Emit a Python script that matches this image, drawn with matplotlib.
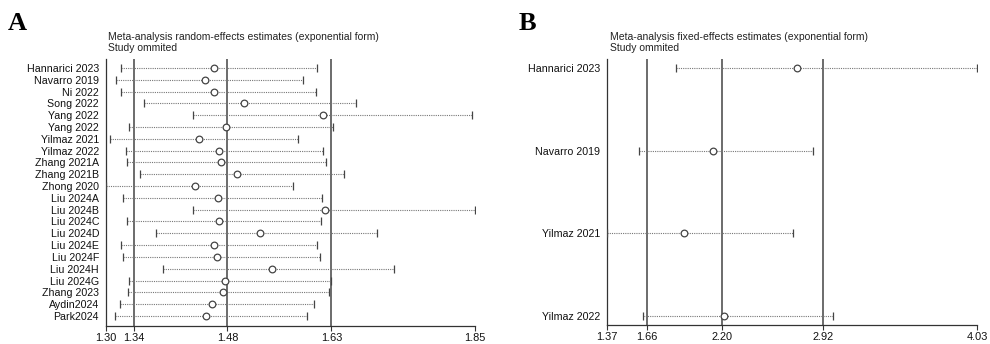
import numpy as np
import matplotlib
matplotlib.use("Agg")
import matplotlib.pyplot as plt

plt.rcParams['font.family'] = ['Liberation Sans', 'DejaVu Sans']

# Panel A: random-effects, one study omitted at a time
studies_a = ['Hannarici 2023', 'Navarro 2019', 'Ni 2022', 'Song 2022', 'Yang 2022',
             'Yang 2022', 'Yilmaz 2021', 'Yilmaz 2022', 'Zhang 2021A', 'Zhang 2021B',
             'Zhong 2020', 'Liu 2024A', 'Liu 2024B', 'Liu 2024C', 'Liu 2024D',
             'Liu 2024E', 'Liu 2024F', 'Liu 2024H', 'Liu 2024G', 'Zhang 2023',
             'Aydin2024', 'Park2024']
est_a = [1.461, 1.448, 1.461, 1.505, 1.623, 1.479, 1.439, 1.469, 1.472, 1.495,
         1.432, 1.467, 1.626, 1.469, 1.530, 1.461, 1.465, 1.547, 1.478, 1.475,
         1.458, 1.449]
low_a = [1.322, 1.315, 1.322, 1.356, 1.429, 1.335, 1.306, 1.330, 1.331, 1.351,
         1.300, 1.325, 1.429, 1.331, 1.374, 1.322, 1.326, 1.385, 1.335, 1.333,
         1.321, 1.313]
up_a = [1.615, 1.593, 1.613, 1.672, 1.845, 1.639, 1.586, 1.623, 1.628, 1.655,
        1.578, 1.622, 1.850, 1.621, 1.704, 1.614, 1.619, 1.729, 1.636, 1.633,
        1.610, 1.599]
ref_a = [1.341, 1.481, 1.636]          # lower CI, estimate, upper CI
ticks_a = [1.30, 1.341, 1.481, 1.636, 1.85]
ticklabels_a = ['1.30', '1.34', '1.48', '1.63', '1.85']

# Panel B: fixed-effects
studies_b = ['Hannarici 2023', 'Navarro 2019', 'Yilmaz 2021', 'Yilmaz 2022']
est_b = [2.735, 2.130, 1.926, 2.210]
low_b = [1.864, 1.598, 1.372, 1.627]
up_b = [4.030, 2.850, 2.710, 2.998]
ref_b = [1.66, 2.20, 2.92]
ticks_b = [1.37, 1.66, 2.20, 2.92, 4.03]
ticklabels_b = ['1.37', '1.66', '2.20', '2.92', '4.03']

W, H = 990, 344


def draw_panel(ax, names, est, low, up, refs, ticks, labels, ylim):
    y = np.arange(len(names))
    for xv in refs:
        ax.axvline(xv, color='#444444', lw=1.1, zorder=1)
    ax.hlines(y, low, up, colors='#777777', linestyles=(0, (1, 1)), lw=0.8, zorder=2)
    ax.plot(low, y, '|', color='#444444', ms=6, mew=0.9, zorder=3)
    ax.plot(up, y, '|', color='#444444', ms=6, mew=0.9, zorder=3)
    ax.plot(est, y, 'o', mfc='white', mec='#444444', ms=4.8, mew=0.9, zorder=4)
    ax.set_xlim(ticks[0], ticks[-1])
    ax.set_ylim(*ylim)
    ax.set_yticks(y)
    ax.set_yticklabels(names, fontsize=7.7, color='#111111')
    ax.tick_params(axis='y', length=0, pad=5)
    ax.set_xticks(ticks)
    ax.set_xticklabels(labels, fontsize=7.9, color='#111111')
    ax.tick_params(axis='x', length=3.5, width=0.8, pad=1.5, color='#333333')
    for s in ['top', 'right']:
        ax.spines[s].set_visible(False)
    for s in ['left', 'bottom']:
        ax.spines[s].set_color('#333333')
        ax.spines[s].set_linewidth(0.9)


fig = plt.figure(figsize=(W / 100, H / 100), dpi=100)

ax_a = fig.add_axes([106 / W, 1 - 326 / H, 369 / W, 267 / H])
n_a = len(studies_a)
draw_panel(ax_a, studies_a, est_a, low_a, up_a, ref_a, ticks_a, ticklabels_a,
           (n_a - 1 + 0.85, -0.76))

ax_b = fig.add_axes([607 / W, 1 - 325 / H, 370 / W, 266 / H])
draw_panel(ax_b, studies_b, est_b, low_b, up_b, ref_b, ticks_b, ticklabels_b,
           (3.11, -0.11))

# panel letters and headings
fig.text(17 / W, 1 - 24 / H, 'A', fontsize=19, fontweight='bold',
         family=['Liberation Serif', 'DejaVu Serif'], ha='center', va='center')
fig.text(527 / W, 1 - 24 / H, 'B', fontsize=19, fontweight='bold',
         family=['Liberation Serif', 'DejaVu Serif'], ha='center', va='center')

fig.text(108 / W, 1 - 37 / H, 'Meta-analysis random-effects estimates (exponential form)',
         fontsize=7.5, va='center', color='#222222')
fig.text(108 / W, 1 - 48 / H, 'Study ommited', fontsize=7.5, va='center', color='#222222')
fig.text(610 / W, 1 - 37 / H, 'Meta-analysis fixed-effects estimates (exponential form)',
         fontsize=7.5, va='center', color='#222222')
fig.text(610 / W, 1 - 48 / H, 'Study ommited', fontsize=7.5, va='center', color='#222222')

fig.savefig('out.png', dpi=100)
